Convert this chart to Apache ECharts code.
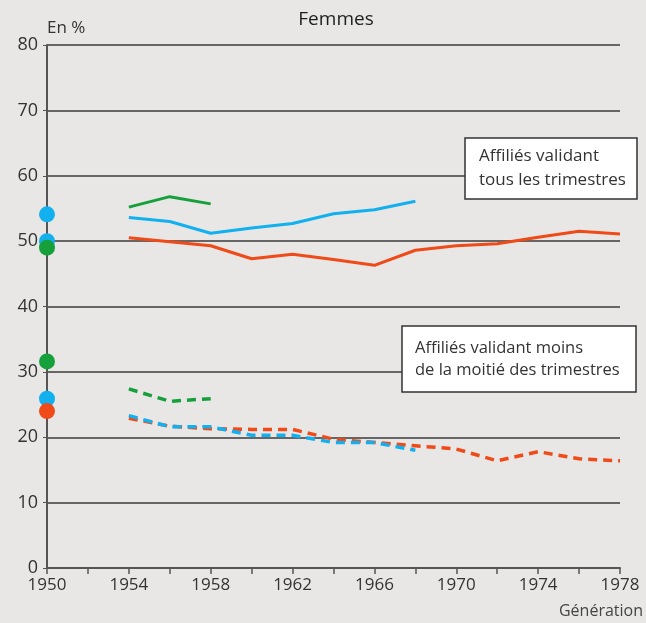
<!DOCTYPE html>
<html>
<head>
<meta charset="utf-8">
<script src="https://cdn.jsdelivr.net/npm/echarts@6/dist/echarts.min.js"></script>
<style>
  html, body { margin: 0; padding: 0; background: #e8e7e6; }
  #chart { width: 646px; height: 623px; }
</style>
</head>
<body>
<div id="chart"></div>
<script>
// générations
var years = [1954, 1956, 1958, 1960, 1962, 1964, 1966, 1968, 1970, 1972, 1974, 1976, 1978]

// affiliés validant tous les trimestres
var tousVert = [55.2, 56.8, 55.7]
var tousBleu = [53.6, 53.0, 51.2, 52.0, 52.7, 54.2, 54.8, 56.1]
var tousRouge = [50.5, 49.9, 49.3, 47.3, 48.0, 47.2, 46.3, 48.6, 49.3, 49.6, 50.6, 51.5, 51.1]

// affiliés validant moins de la moitié des trimestres
var moinsVert = [27.4, 25.5, 25.9]
var moinsBleu = [23.3, 21.6, 21.6, 20.3, 20.3, 19.2, 19.2, 18.0]
var moinsRouge = [22.9, 21.7, 21.3, 21.2, 21.2, 19.7, 19.2, 18.7, 18.2, 16.4, 17.8, 16.7, 16.4]

// points génération 1950
var pointsBleu = [54.1, 50.0, 25.9]
var pointsVert = [49.0, 31.6]
var pointsRouge = [24.0]

var vert = '#16a03c'
var bleu = '#12b0ee'
var rouge = '#ef4a17'

function paires (vals) {
  return vals.map(function (v, i) { return [years[i], v] })
}
function points (vals) {
  return vals.map(function (v) { return [1950, v] })
}

function ligne (vals, couleur, pointille) {
  return {
    type: 'line',
    data: paires(vals),
    symbol: 'none',
    z: 3,
    lineStyle: {
      color: couleur,
      width: pointille ? 3.5 : 3,
      type: pointille ? [9, 6] : 'solid'
    }
  }
}
function nuage (vals, couleur, z) {
  return {
    type: 'scatter',
    data: points(vals),
    symbolSize: 16,
    z: z,
    itemStyle: { color: couleur, opacity: 1 }
  }
}

// encadré de légende (un titre avec bordure)
function encadre (texte, x, y, largeur, taille, interligne, marge) {
  return {
    text: texte,
    left: x,
    top: y,
    z: 20,
    backgroundColor: '#fff',
    borderColor: '#333',
    borderWidth: 1.5,
    borderRadius: 0,
    padding: marge,
    textStyle: {
      fontFamily: police,
      fontSize: taille,
      fontWeight: 'normal',
      color: '#333',
      lineHeight: interligne,
      width: largeur
    }
  }
}

var police = 'Open Sans'
var chart = echarts.init(document.getElementById('chart'))
chart.setOption({
  backgroundColor: '#e8e7e6',
  animation: false,
  textStyle: { fontFamily: police },
  title: [
    {
      text: 'Femmes',
      left: 331,
      top: 5,
      textAlign: 'center',
      textStyle: { fontFamily: police, fontSize: 19, fontWeight: 'normal', color: '#1e1e1e' }
    },
    encadre('Affiliés validant\ntous les trimestres', 465, 138, 146, 17, 24, [6, 11, 7, 14]),
    encadre('Affiliés validant moins\nde la moitié des trimestres', 402, 326, 208, 16.5, 22, [11, 13, 11, 13])
  ],
  grid: { left: 47, right: 26, top: 45, bottom: 55 },
  xAxis: {
    type: 'value',
    min: 1950,
    max: 1978,
    interval: 2,
    name: 'Génération',
    nameLocation: 'end',
    nameGap: 0,
    nameTextStyle: { fontSize: 16, color: '#444', align: 'right', verticalAlign: 'top', padding: [35, -23, 0, 0] },
    axisLine: { lineStyle: { color: '#555', width: 2 } },
    axisTick: { length: 6, lineStyle: { color: '#555', width: 1.5 } },
    splitLine: { show: false },
    axisLabel: {
      color: '#333',
      fontSize: 17,
      margin: 9,
      formatter: function (v) { return (v - 1950) % 4 === 0 ? String(v) : '' }
    }
  },
  yAxis: {
    type: 'value',
    min: 0,
    max: 80,
    interval: 10,
    name: 'En %',
    nameLocation: 'end',
    nameGap: 8,
    nameTextStyle: { fontSize: 17, color: '#333', align: 'left' },
    axisLine: { show: true, lineStyle: { color: '#555', width: 2 } },
    axisTick: { show: true, length: 4, lineStyle: { color: '#555' } },
    axisLabel: { color: '#333', fontSize: 18, margin: 9 },
    splitLine: { lineStyle: { color: '#666', width: 2 } }
  },
  series: [
    ligne(tousRouge, rouge, false),
    ligne(tousBleu, bleu, false),
    ligne(tousVert, vert, false),
    ligne(moinsRouge, rouge, true),
    ligne(moinsBleu, bleu, true),
    ligne(moinsVert, vert, true),
    nuage(pointsBleu, bleu, 4),
    nuage(pointsVert, vert, 5),
    nuage(pointsRouge, rouge, 5)
  ]
})
</script>
</body>
</html>
